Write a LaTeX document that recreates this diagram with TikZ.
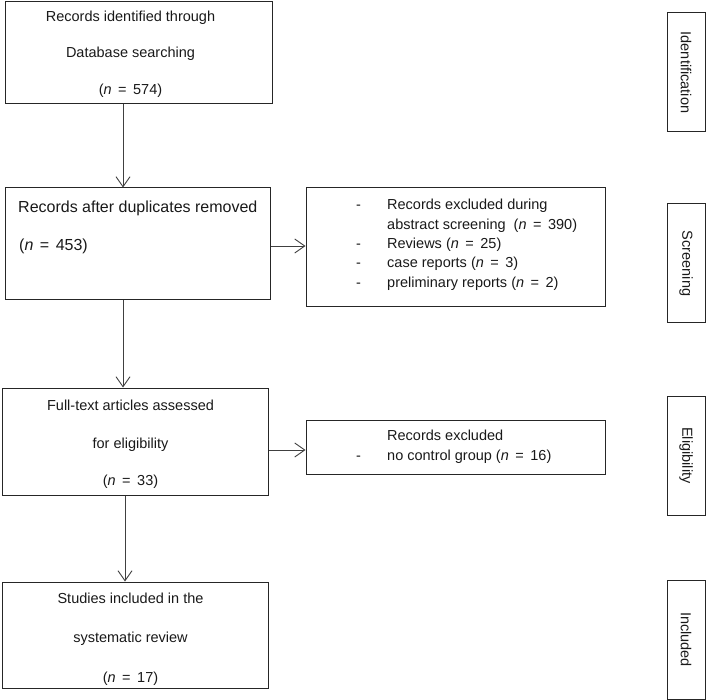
\documentclass[tikz,border=0pt]{standalone}
\usepackage{fontspec}
\setmainfont{Liberation Sans}
\usetikzlibrary{arrows.meta}
\newcommand{\eqs}{\hspace{6.5pt}=\hspace{6.5pt}}
\begin{document}
\begin{tikzpicture}[x=1pt,y=-1pt,
  box/.style={draw=black!85, line width=1pt, inner sep=0pt},
  txt/.style={inner sep=0pt, font=\fontsize{14.5}{17}\selectfont, text=black!90},
  bigtxt/.style={txt, font=\fontsize{16}{19}\selectfont},
  lab/.style={draw=black!85, line width=1pt, inner sep=0pt, rotate=-90,
     minimum width=119pt, minimum height=38pt, font=\fontsize{14.5}{17}\selectfont, text=black!90},
  arr/.style={draw=black!75, line width=0.9pt, -{Straight Barb[length=10pt,width=14pt,line width=0.9pt]}}]
\useasboundingbox (0,0) rectangle (709,700);

% main boxes
\node[box, minimum width=267pt, minimum height=102pt] (b1) at (138.5,53) {};
\node[box, minimum width=265pt, minimum height=112pt] (b2) at (137.5,244) {};
\node[box, minimum width=299pt, minimum height=119pt] (b3) at (455.5,247.5) {};
\node[box, minimum width=266pt, minimum height=107pt] (b4) at (135,441.5) {};
\node[box, minimum width=299pt, minimum height=54pt] (b5) at (455.5,447) {};
\node[box, minimum width=266pt, minimum height=106pt] (b6) at (135,635) {};

% side labels
\node[lab] (l1) at (686,72.5) {Identification};
\node[lab] (l2) at (686,263.5) {Screening};
\node[lab] (l3) at (686,455.5) {Eligibility};
\node[lab] (l4) at (686,639.5) {Included};

% texts box 1
\node[txt, anchor=base] (t1a) at (130.5,22) {Records identified through};
\node[txt, anchor=base] (t1b) at (130.5,58) {Database searching};
\node[txt, anchor=base] (t1c) at (130.5,95) {(\textit{n}\eqs574)};

% texts box 2
\node[bigtxt, anchor=base west] (t2a) at (18,212.5) {Records after duplicates removed};
\node[bigtxt, anchor=base west] (t2b) at (19,250.5) {(\textit{n}\eqs453)};

% texts box 3
\node[txt, anchor=base west] (d3a) at (356,210) {-};
\node[txt, anchor=base west] (t3a) at (387,210) {Records excluded during};
\node[txt, anchor=base west] (t3b) at (387,229.5) {abstract screening~~(\textit{n}\eqs390)};
\node[txt, anchor=base west] (d3c) at (356,249) {-};
\node[txt, anchor=base west] (t3c) at (387,249) {Reviews (\textit{n}\eqs25)};
\node[txt, anchor=base west] (d3d) at (356,268) {-};
\node[txt, anchor=base west] (t3d) at (387,268) {case reports (\textit{n}\eqs3)};
\node[txt, anchor=base west] (d3e) at (356,288) {-};
\node[txt, anchor=base west] (t3e) at (387,288) {preliminary reports (\textit{n}\eqs2)};

% texts box 4
\node[txt, anchor=base] (t4a) at (130.5,410) {Full-text articles assessed};
\node[txt, anchor=base] (t4b) at (130.5,448) {for eligibility};
\node[txt, anchor=base] (t4c) at (130.5,485) {(\textit{n}\eqs33)};

% texts box 5
\node[txt, anchor=base west] (t5a) at (387,440) {Records excluded};
\node[txt, anchor=base west] (d5b) at (356,460) {-};
\node[txt, anchor=base west] (t5b) at (387,460) {no control group (\textit{n}\eqs16)};

% texts box 6
\node[txt, anchor=base] (t6a) at (130.5,603) {Studies included in the};
\node[txt, anchor=base] (t6b) at (130.5,642) {systematic review};
\node[txt, anchor=base] (t6c) at (130.5,682) {(\textit{n}\eqs17)};

% connector guides
\coordinate (ax) at (123,0);
\coordinate (bx) at (125,0);
\coordinate (ay) at (0,246);
\coordinate (by) at (0,450);

\draw[arr] (b1.south -| ax) -- (b2.north -| ax);
\draw[arr] (b2.south -| ax) -- (b4.north -| ax);
\draw[arr] (b4.south -| bx) -- (b6.north -| bx);
\draw[arr] (b2.east |- ay) -- (b3.west |- ay);
\draw[arr] (b4.east |- by) -- (b5.west |- by);
\end{tikzpicture}
\end{document}
